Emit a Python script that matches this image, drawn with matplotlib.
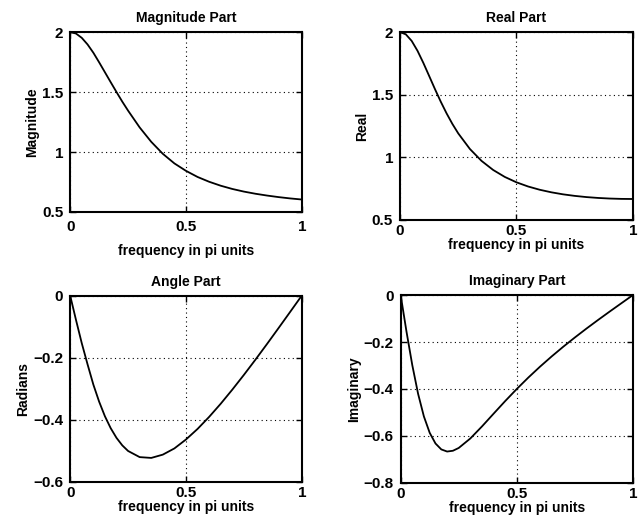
import matplotlib
matplotlib.use("Agg")
import matplotlib.pyplot as plt

# frequency axis (in units of pi) and the four parts of the spectrum
freq = [0, 0.025, 0.05, 0.075, 0.1, 0.125, 0.15, 0.175, 0.2, 0.225, 0.25,
        0.3, 0.35, 0.4, 0.45, 0.5, 0.55, 0.6, 0.65, 0.7, 0.75, 0.8, 0.85,
        0.9, 0.95, 1.0]

magnitude = [2.0, 1.988, 1.952, 1.897, 1.828, 1.748, 1.665, 1.582, 1.50, 1.42,
             1.345, 1.205, 1.085, 0.985, 0.905, 0.843, 0.792, 0.752, 0.719,
             0.692, 0.670, 0.652, 0.637, 0.624, 0.613, 0.604]

real = [2.0, 1.9817, 1.9296, 1.8507, 1.7544, 1.6499, 1.5446, 1.4437, 1.3504,
        1.2659, 1.1908, 1.0663, 0.9711, 0.8985, 0.8429, 0.8, 0.7666, 0.7405,
        0.7201, 0.7040, 0.6916, 0.6821, 0.6752, 0.6704, 0.6676, 0.6667]

angle = [0, -0.0781, -0.1533, -0.2214, -0.2866, -0.3417, -0.3888, -0.4273,
         -0.4584, -0.4826, -0.5006, -0.5204, -0.5230, -0.5124, -0.4924,
         -0.4636, -0.4296, -0.3908, -0.3484, -0.3030, -0.2555, -0.2063,
         -0.1558, -0.1043, -0.0523, 0]

imag = [0, -0.1550, -0.2982, -0.4204, -0.5169, -0.5867, -0.6323, -0.6575,
        -0.6665, -0.6632, -0.6513, -0.6108, -0.5597, -0.5054, -0.4516, -0.4,
        -0.3511, -0.3050, -0.2615, -0.2201, -0.1807, -0.1427, -0.1060,
        -0.0702, -0.0350, 0]

x_ticks = [0, 0.5, 1]
x_ticklabels = ["0", "0.5", "1"]

plt.rcParams['font.family'] = ['Liberation Sans', 'DejaVu Sans']
plt.rcParams['font.weight'] = 'bold'

fig = plt.figure(figsize=(6.38, 5.26), dpi=100)

# [left, bottom, width, height], title, ylabel, data, yticks, yticklabels, ylim, xlabel pad, xtick pad
panels = [
    ([0.110, 0.597, 0.363, 0.342], "Magnitude Part", "Magnitude", magnitude,
     [0.5, 1, 1.5, 2], ["0.5", "1", "1.5", "2"], (0.5, 2), 7, 6),
    ([0.627, 0.582, 0.365, 0.357], "Real Part", "Real", real,
     [0.5, 1, 1.5, 2], ["0.5", "1", "1.5", "2"], (0.5, 2), 0, 3),
    ([0.110, 0.084, 0.363, 0.354], "Angle Part", "Radians", angle,
     [-0.6, -0.4, -0.2, 0], ["\u22120.6", "\u22120.4", "\u22120.2", "0"], (-0.6, 0), 0, 3),
    ([0.628, 0.082, 0.364, 0.357], "Imaginary Part", "Imaginary", imag,
     [-0.8, -0.6, -0.4, -0.2, 0],
     ["\u22120.8", "\u22120.6", "\u22120.4", "\u22120.2", "0"], (-0.8, 0), 0, 3),
]

for rect, title, ylab, vals, yt, ytl, ylim, xpad, tpad in panels:
    ax = fig.add_axes(rect)
    ax.plot(freq, vals, color='black', linewidth=1.3)
    ax.set_xlim(0, 1)
    ax.set_ylim(*ylim)
    ax.set_xticks(x_ticks)
    ax.set_xticklabels(x_ticklabels, fontsize=11, fontweight='bold')
    ax.set_yticks(yt)
    ax.set_yticklabels(ytl, fontsize=11, fontweight='bold')
    ax.tick_params(direction='in', length=4, width=1, top=True, right=True)
    ax.tick_params(axis='x', pad=tpad)
    ax.tick_params(axis='y', pad=5)
    ax.grid(True, color='black', linestyle=(0, (1, 3)), linewidth=0.8)
    for s in ax.spines.values():
        s.set_linewidth(1.5)
    ax.set_title(title, fontsize=10, fontweight='bold', pad=7)
    ax.set_ylabel(ylab, fontsize=10, fontweight='bold', labelpad=2)
    ax.set_xlabel("frequency in pi units", fontsize=10, fontweight='bold', labelpad=xpad)

fig.savefig("out.png", dpi=100)
